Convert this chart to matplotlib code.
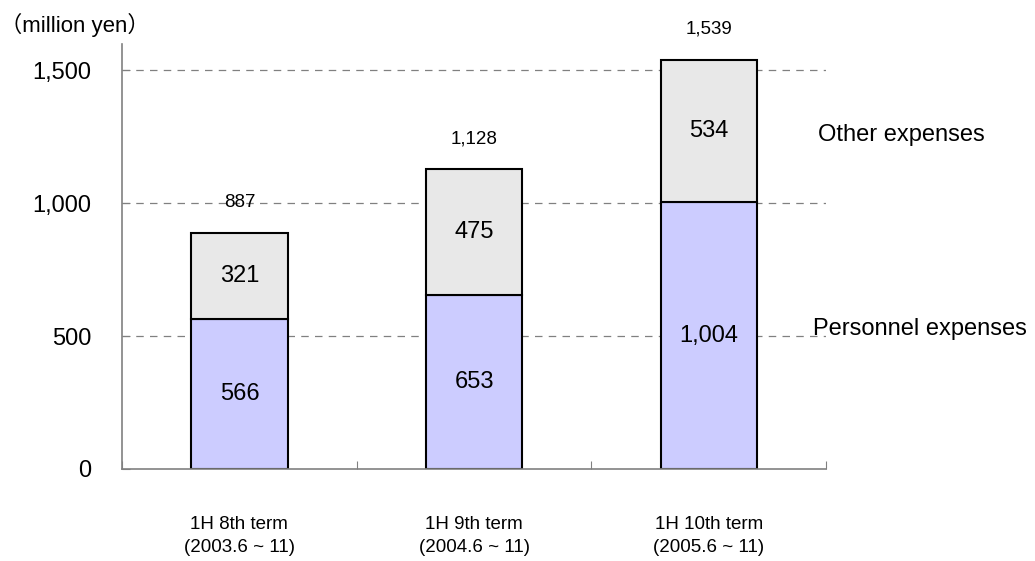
import numpy as np
import matplotlib
matplotlib.use("Agg")
from matplotlib import pyplot as plt
from matplotlib.ticker import FixedLocator, FuncFormatter

plt.rcParams['font.family'] = ['Liberation Sans', 'Noto Sans CJK JP', 'DejaVu Sans']

# half-year expense breakdown (million yen)
terms = ['1H 8th term\n(2003.6 ~ 11)', '1H 9th term\n(2004.6 ~ 11)', '1H 10th term\n(2005.6 ~ 11)']
personnel = [566, 653, 1004]
other = [321, 475, 534]
totals = [887, 1128, 1539]
series_names = ['Personnel expenses', 'Other expenses']

fig = plt.figure(figsize=(10.35, 5.61), dpi=100)
ax = fig.add_axes([0.118, 0.164, 0.680, 0.758])

x = np.arange(len(terms))
w = 0.41
ax.set_xlim(-0.5, len(terms) - 0.5)
ax.set_ylim(0, 1600)

# dashed grid behind the bars
for yv in [500, 1000, 1500]:
    ax.axhline(yv, color='#808080', lw=0.9, ls=(0, (6, 5)), zorder=0)

ax.bar(x, personnel, w, color='#CCCCFF', edgecolor='black', lw=1.5, zorder=2)
ax.bar(x, other, w, bottom=personnel, color='#E8E8E8', edgecolor='black', lw=1.5, zorder=2)

for i in range(len(terms)):
    ax.text(x[i], personnel[i] / 2, f'{personnel[i]:,}', ha='center', va='center', fontsize=17, zorder=3)
    ax.text(x[i], personnel[i] + other[i] / 2, f'{other[i]:,}', ha='center', va='center', fontsize=17, zorder=3)
    ax.text(x[i], totals[i] + 115, f'{totals[i]:,}', ha='center', va='center', fontsize=13.5)

# series names at the right of the last bar
ax.text(2.465, 1255, series_names[1], ha='left', va='center', fontsize=17, clip_on=False)
ax.text(2.443, 525, series_names[0], ha='left', va='center', fontsize=17, clip_on=False)

ax.yaxis.set_major_locator(FixedLocator([0, 500, 1000, 1500]))
ax.yaxis.set_major_formatter(FuncFormatter(lambda v, p: f'{int(v):,}'))
ax.tick_params(axis='y', direction='in', length=6, color='#808080', labelsize=17, pad=22)

ax.set_xticks([-0.5, 0.5, 1.5, 2.5])
ax.set_xticklabels([])
ax.tick_params(axis='x', direction='in', length=6, color='#808080')
for i, t in enumerate(terms):
    ax.text(x[i], -0.158, t, transform=ax.get_xaxis_transform(), ha='center', va='center',
            fontsize=13.5, linespacing=1.5)

for s in ['top', 'right']:
    ax.spines[s].set_visible(False)
for s in ['left', 'bottom']:
    ax.spines[s].set_color('#808080')
    ax.spines[s].set_linewidth(1.2)

fig.text(0.0, 0.955, '（million yen）', ha='left', va='center', fontsize=16)

fig.savefig('out.png', dpi=100)
